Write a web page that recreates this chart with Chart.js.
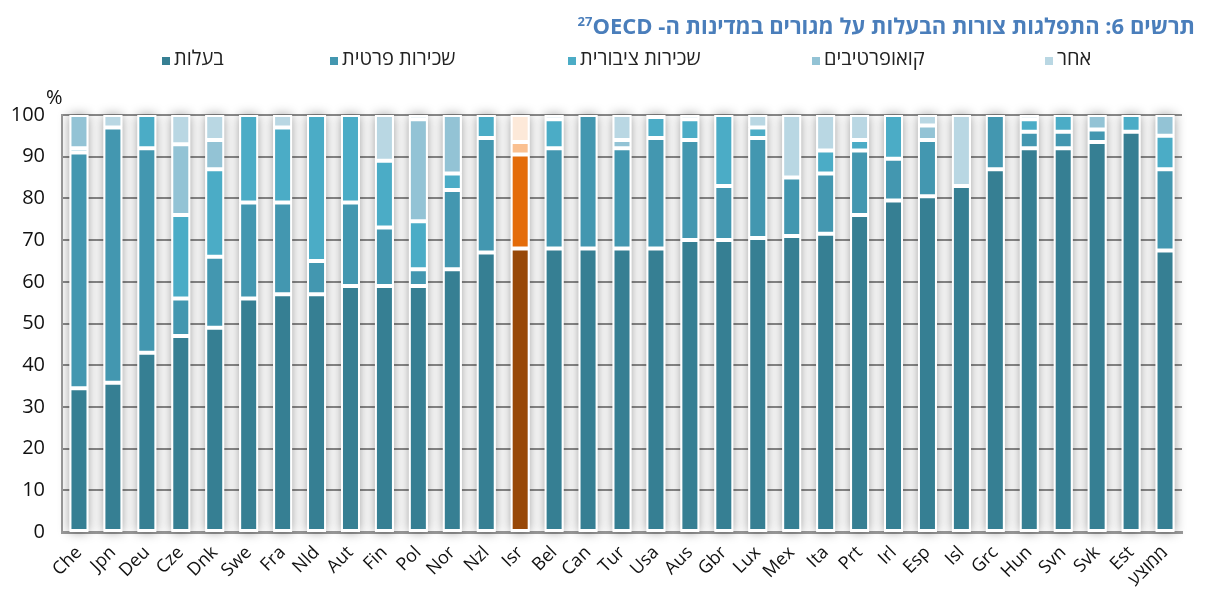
<!DOCTYPE html>
<html lang="he">
<head>
<meta charset="utf-8">
<script src="https://cdn.jsdelivr.net/npm/chart.js@4"></script>
<style>
  html, body { margin: 0; padding: 0; background: #fff; }
  body { width: 1205px; height: 599px; position: relative; overflow: hidden;
         font-family: "Open Sans", "DejaVu Sans", sans-serif; }
  #wrap { position: absolute; left: 0; top: 0; width: 1205px; height: 599px; }
  #title { position: absolute; right: 10px; top: 10px; direction: rtl;
           font-size: 22px; font-weight: bold; color: #4a7ebb; white-space: nowrap; }
  #title sup { font-size: 13px; }
  #legend { position: absolute; left: 0; top: 44px; width: 1205px; height: 30px;
            font-size: 20px; color: #222; }
  #legend .it { position: absolute; display: flex; align-items: center; gap: 4px; white-space: nowrap; }
  #legend .bx { width: 8px; height: 8px; margin-top: 7px; }
  #pct { position: absolute; left: 46px; top: 83px; font-size: 20px; color: #111; }
</style>
</head>
<body>
<div id="wrap"><canvas id="chart" width="1205" height="599"></canvas></div>
<div id="title">תרשים 6: התפלגות צורות הבעלות על מגורים במדינות ה- OECD&rlm;<sup>27</sup></div>
<div id="legend"></div>
<div id="pct">%</div>
<script>
/* ================= נתונים ================= */
const countries = ['Che','Jpn','Deu','Cze','Dnk','Swe','Fra','Nld','Aut','Fin','Pol','Nor','Nzl','Isr',
  'Bel','Can','Tur','Usa','Aus','Gbr','Lux','Mex','Ita','Prt','Irl','Esp','Isl','Grc','Hun','Svn','Svk','Est','ממוצע'];

const seriesNames = ['בעלות', 'שכירות פרטית', 'שכירות ציבורית', 'קואופרטיבים', 'אחר'];

const baalut   = [34.5,35.8,43,47,49,56,57,57,59,59,59,63,67,68, 68,68,68,68,70,70,70.5,71,71.5,76,79.5,80.5,83,87,92,92,93.5,96,67.5];
const pratit   = [56.5,61.2,49,9,17,23,22,8,20,14,4,19,27.5,22.5, 24,32,24,26.5,24,13,24,14,14.5,15.5,10,13.5,0,13,4,4,3,0,19.5];
const tziburit = [1,0,8,20,21,21,18,35,21,16,11.5,4,5.5,3, 7,0,0,5,5,17,2.5,0,5.5,2.5,10.5,0,0,0,3,4,0,4,8];
const coop     = [8,0,0,17,7,0,0,0,0,0,24.5,14,0,0, 0,0,2,0,0,0,0,0,0,0,0,3.5,0,0,0,0,3.5,0,5];
const acher    = [0,3,0,7,6,0,3,0,0,11,1,0,0,6.5, 1,0,6,0.5,1,0,3,15,8.5,6,0,2.5,17,0,1,0,0,0,0];

const yTicks = [0,10,20,30,40,50,60,70,80,90,100];

/* ================= צבעים ================= */
const colors    = ['#367f93', '#4397b0', '#4bacc6', '#93c3d5', '#b9d7e3'];
const colorsIsr = ['#984807', '#e46c0a', '#fac090', '#fbd5b5', '#fde9d9'];
const idxIsr = countries.indexOf('Isr');

const seriesData = [baalut, pratit, tziburit, coop, acher];

/* ================= מקרא ================= */
const legendX = [162, 330, 568, 812, 1045];
const leg = document.getElementById('legend');
seriesNames.forEach((n, i) => {
  const it = document.createElement('div');
  it.className = 'it';
  it.style.left = legendX[i] + 'px';
  it.innerHTML = '<span class="bx" style="background:' + colors[i] + '"></span><span>' + n + '</span>';
  leg.appendChild(it);
});

/* צל רך מאחורי כל עמודה */
const sombra = {
  id: 'sombra',
  beforeDatasetsDraw(chart) {
    const ctx = chart.ctx;
    const y = chart.scales.y;
    const meta = chart.getDatasetMeta(0);
    ctx.save();
    ctx.shadowColor = 'rgba(0,0,0,0.4)';
    ctx.shadowBlur = 12;
    ctx.fillStyle = '#fff';
    meta.data.forEach((bar, i) => {
      const total = seriesData.reduce((s, arr) => s + arr[i], 0);
      const top = y.getPixelForValue(Math.min(total, 100));
      const bottom = y.getPixelForValue(0);
      ctx.fillRect(bar.x - bar.width / 2, top, bar.width, bottom - top);
    });
    ctx.restore();
  }
};

const datasets = seriesData.map((arr, i) => ({
  label: seriesNames[i],
  data: arr.map(v => v === 0 ? null : v),
  backgroundColor: countries.map((c, k) => k === idxIsr ? colorsIsr[i] : colors[i]),
  borderColor: '#ffffff',
  borderWidth: 2,
  borderSkipped: false,
  barPercentage: 0.56,
  categoryPercentage: 1
}));

const PAD_LEFT = 4, PAD_TOP = 115, PAD_RIGHT = 23;

new Chart(document.getElementById('chart'), {
  type: 'bar',
  data: { labels: countries, datasets },
  options: {
    responsive: false,
    animation: false,
    layout: { padding: { left: PAD_LEFT, top: PAD_TOP, right: PAD_RIGHT, bottom: 0 } },
    plugins: { legend: { display: false }, tooltip: { enabled: false } },
    scales: {
      x: {
        stacked: true,
        grid: { display: false },
        border: { display: true, color: '#9a9a9a', width: 3 },
        ticks: {
          color: '#111', autoSkip: false, minRotation: 45, maxRotation: 45, padding: 2,
          font: { family: '"Open Sans", "DejaVu Sans", sans-serif', size: 18 }
        },
        afterFit(s) { s.height = 67; }
      },
      y: {
        stacked: true,
        min: 0, max: 100,
        afterBuildTicks(s) { s.ticks = yTicks.map(v => ({ value: v })); },
        grid: { color: '#8c8c8c', lineWidth: 2, drawTicks: false },
        border: { display: true, color: '#9a9a9a', width: 2 },
        ticks: {
          color: '#111', padding: 17,
          font: { family: '"Open Sans", "DejaVu Sans", sans-serif', size: 20 }
        },
        afterFit(s) { s.width = 62 - PAD_LEFT; }
      }
    }
  },
  plugins: [sombra]
});
</script>
</body>
</html>
